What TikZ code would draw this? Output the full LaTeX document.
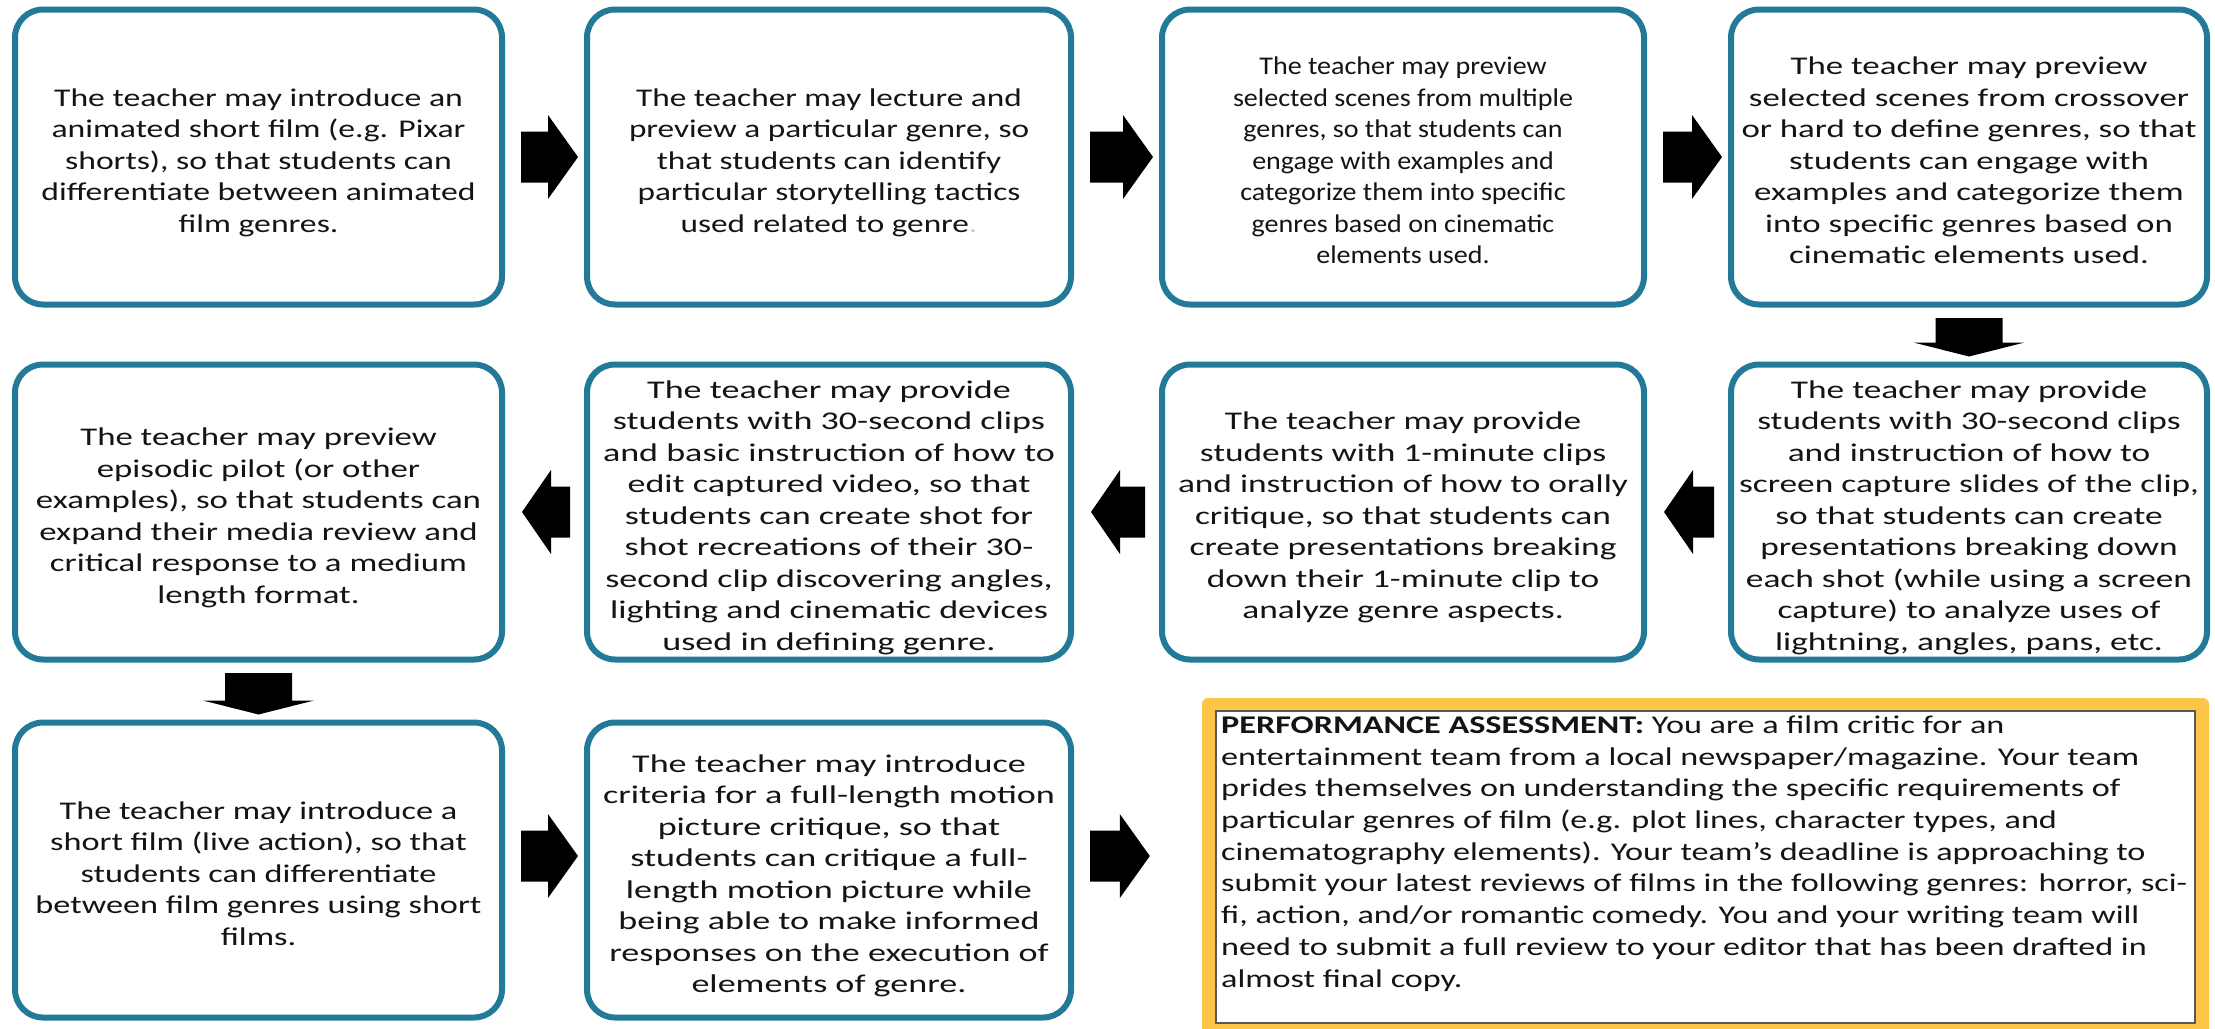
\documentclass[tikz,border=0pt]{standalone}
\usepackage{fontspec}
\setmainfont{Carlito}
\usepackage{graphicx}
\usetikzlibrary{calc}
\definecolor{tealb}{RGB}{35,122,152}
\definecolor{paorange}{RGB}{253,198,72}
\definecolor{txt}{RGB}{20,20,20}

\newcommand\boxtext[2]{\raisebox{-6pt}[\height][\depth]{\resizebox{#1pt}{\height}{\begin{tabular}{@{}c@{}}#2\end{tabular}}}}

% right block arrow: from node #1 to node #2, vertical offset #3, gap before #2 = #4
\newcommand\rarr[4]{%
  \coordinate (ta) at ($(#1.east)+(16,#3)$);
  \coordinate (tb) at ($(#1.east -| #2.west)+(-#4,#3)$);
  \fill[black] ($(ta)+(0,-25.5)$) -- ($(tb)+(-30,-25.5)$) -- ($(tb)+(-30,-42)$) -- (tb)
    -- ($(tb)+(-30,42)$) -- ($(tb)+(-30,25.5)$) -- ($(ta)+(0,25.5)$) -- cycle;}
% left block arrow
\newcommand\larr[2]{%
  \coordinate (ta) at ($(#1.west)+(-14,0)$);
  \coordinate (tb) at ($(#1.west -| #2.east)+(17,0)$);
  \fill[black] ($(ta)+(0,-25.5)$) -- ($(tb)+(29,-25.5)$) -- ($(tb)+(29,-42)$) -- (tb)
    -- ($(tb)+(29,42)$) -- ($(tb)+(29,25.5)$) -- ($(ta)+(0,25.5)$) -- cycle;}
% down block arrow
\newcommand\darr[2]{%
  \coordinate (ta) at ($(#1.south)+(0,10.5)$);
  \coordinate (tb) at ($(#1.south |- #2.north)+(0,-5)$);
  \fill[black] ($(ta)+(-33.5,0)$) -- ($(tb)+(-33.5,-14)$) -- ($(tb)+(-55.5,-14)$) -- (tb)
    -- ($(tb)+(55.5,-14)$) -- ($(tb)+(33.5,-14)$) -- ($(ta)+(33.5,0)$) -- cycle;}

\begin{document}
\begin{tikzpicture}[x=1pt,y=-1pt,
  stagebox/.style={draw=tealb, line width=6pt, rounded corners=28pt, fill=white,
    inner sep=0pt, minimum height=295pt, text=txt,
    font=\fontsize{25.5}{31.5}\selectfont},
  c1/.style={stagebox, minimum width=487pt},
  c2/.style={stagebox, minimum width=484pt},
  c3/.style={stagebox, minimum width=482pt},
  c4/.style={stagebox, minimum width=476pt}]

\fill[white] (0,0) rectangle (2215,1028);
\useasboundingbox (0,0) rectangle (2215,1028);

% row 1
\node[c1] (b1) at (258.5,157) {\boxtext{434}{The teacher may introduce an\\ animated short film (e.g. Pixar\\ shorts), so that students can\\ differentiate between animated\\ film genres.}};
\node[c2] (b2) at (829,157) {\boxtext{400}{The teacher may lecture and\\ preview a particular genre, so\\ that students can identify\\ particular storytelling tactics\\ used related to genre{\color{gray!40}.}}};
\node[c3] (b3) at (1403,157) {\boxtext{340}{The teacher may preview\\ selected scenes from multiple\\ genres, so that students can\\ engage with examples and\\ categorize them into specific\\ genres based on cinematic\\ elements used.}};
\node[c4] (b4) at (1969,157) {\boxtext{455}{The teacher may preview\\ selected scenes from crossover\\ or hard to define genres, so that\\ students can engage with\\ examples and categorize them\\ into specific genres based on\\ cinematic elements used.}};

% row 2
\node[c4] (b5) at (1969,512) {\boxtext{460}{The teacher may provide\\ students with 30-second clips\\ and instruction of how to\\ screen capture slides of the clip,\\ so that students can create\\ presentations breaking down\\ each shot (while using a screen\\ capture) to analyze uses of\\ lightning, angles, pans, etc.}};
\node[c3] (b6) at (1403,512) {\boxtext{450}{The teacher may provide\\ students with 1-minute clips\\ and instruction of how to orally\\ critique, so that students can\\ create presentations breaking\\ down their 1-minute clip to\\ analyze genre aspects.}};
\node[c2] (b7) at (829,512) {\boxtext{452}{The teacher may provide\\ students with 30-second clips\\ and basic instruction of how to\\ edit captured video, so that\\ students can create shot for\\ shot recreations of their 30-\\ second clip discovering angles,\\ lighting and cinematic devices\\ used in defining genre.}};
\node[c1] (b8) at (258.5,512) {\boxtext{445}{The teacher may preview\\ episodic pilot (or other\\ examples), so that students can\\ expand their media review and\\ critical response to a medium\\ length format.}};

% row 3
\node[c1] (b9) at (258.5,870) {\boxtext{446}{The teacher may introduce a\\ short film (live action), so that\\ students can differentiate\\ between film genres using short\\ films.}};
\node[c2] (b10) at (829,870) {\boxtext{452}{The teacher may introduce\\ criteria for a full-length motion\\ picture critique, so that\\ students can critique a full-\\ length motion picture while\\ being able to make informed\\ responses on the execution of\\ elements of genre.}};

% performance assessment
\node[fill=paorange, rounded corners=6pt, inner sep=0pt, minimum width=1007pt, minimum height=338pt] (pa) at (1705.5,867) {};
\node[fill=white, draw=gray!70!black, line width=1.5pt, inner sep=0pt, minimum width=979pt, minimum height=312pt] (pain) at (pa.center) {};
\node[anchor=north west, inner sep=0pt, text=txt, font=\fontsize{25.5}{31.7}\selectfont] (patext) at (1221,711) {\resizebox{966pt}{\height}{\begin{tabular}{@{}l@{}}\textbf{PERFORMANCE ASSESSMENT:} You are a film critic for an\\ entertainment team from a local newspaper/magazine. Your team\\ prides themselves on understanding the specific requirements of\\ particular genres of film (e.g. plot lines, character types, and\\ cinematography elements). Your team’s deadline is approaching to\\ submit your latest reviews of films in the following genres: horror, sci-\\ fi, action, and/or romantic comedy. You and your writing team will\\ need to submit a full review to your editor that has been drafted in\\ almost final copy.\end{tabular}}};

% arrows
\rarr{b1}{b2}{0}{6}
\rarr{b2}{b3}{0}{6}
\rarr{b3}{b4}{0}{6}
\darr{b4}{b5}
\larr{b5}{b6}
\larr{b6}{b7}
\larr{b7}{b8}
\darr{b8}{b9}
\rarr{b9}{b10}{-14}{6}
\rarr{b10}{pa}{-14}{52}
\end{tikzpicture}
\end{document}
